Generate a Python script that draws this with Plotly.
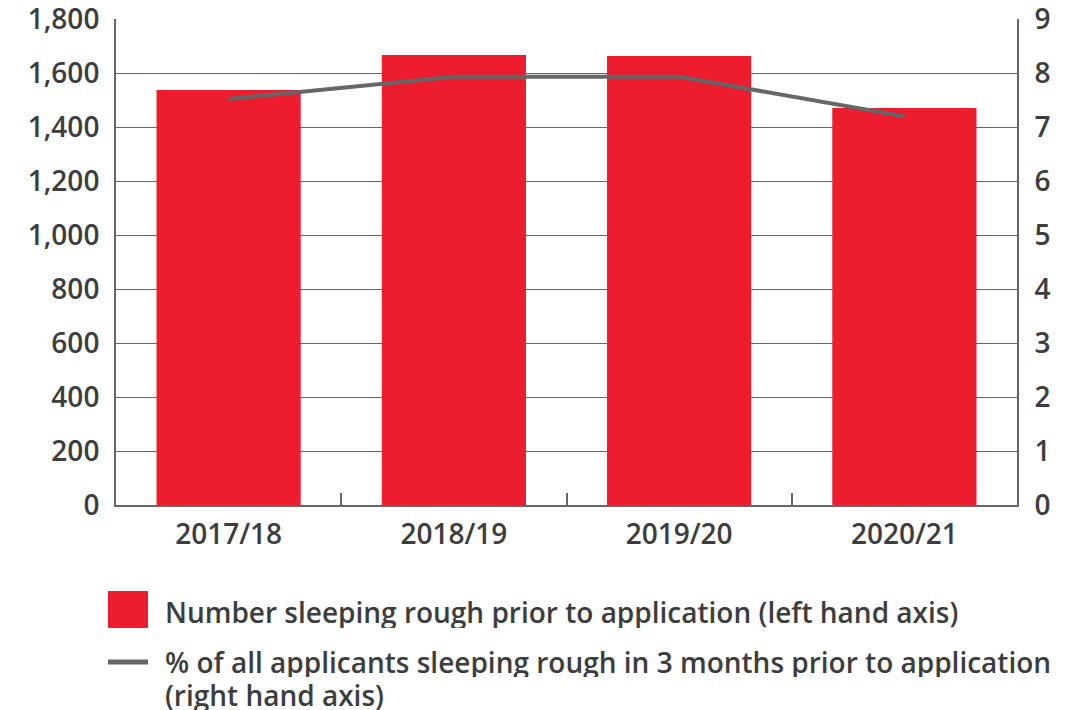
import plotly.graph_objects as go

categories = ["2017/18", "2018/19", "2019/20", "2020/21"]
rough_sleepers = [1537, 1667, 1663, 1470]
pct_applicants = [7.52, 7.93, 7.93, 7.2]
legend_labels = [
    "Number sleeping rough prior to application (left hand axis)",
    "% of all applicants sleeping rough in 3 months prior to application<br>(right hand axis)",
]

RED = "#ED1C2E"
GREY = "#666666"
TEXT = "#3d3d3d"
FONT = dict(family="Open Sans", size=28, color=TEXT, weight=600)

W, H = 1071, 710
# plot area in page pixels
L, R, T, B = 116, 1017, 19, 505

def px(x):
    return (x - L) / (R - L)

def py(y):
    return (B - y) / (B - T)

fig = go.Figure()
fig.add_trace(go.Bar(x=categories, y=rough_sleepers, marker=dict(color=RED, line=dict(width=0)),
                     name=legend_labels[0], showlegend=False))
fig.add_trace(go.Scatter(x=categories, y=pct_applicants, yaxis="y2", mode="lines",
                         line=dict(color=GREY, width=4), name=legend_labels[1], showlegend=False))

shapes = [
    dict(type="rect", xref="paper", yref="paper", x0=px(108), x1=px(148), y0=py(628), y1=py(591),
         fillcolor=RED, line=dict(width=0)),
    dict(type="line", xref="paper", yref="paper", x0=px(108), x1=px(148), y0=py(662), y1=py(662),
         line=dict(color=GREY, width=5)),
]
annotations = [
    dict(xref="paper", yref="paper", x=px(164), y=py(612), text=legend_labels[0], showarrow=False,
         xanchor="left", yanchor="middle", align="left", font=FONT, height=32, borderpad=0),
]
for i, line in enumerate(legend_labels[1].split("<br>")):
    annotations.append(dict(xref="paper", yref="paper", x=px(164), y=py(662 + 33 * i), text=line,
                            showarrow=False, xanchor="left", yanchor="middle", align="left",
                            font=FONT, height=30, borderpad=0))

fig.update_layout(
    width=W, height=H,
    margin=dict(l=L, r=W - R, t=T, b=H - B, pad=0),
    paper_bgcolor="white", plot_bgcolor="white",
    font=FONT,
    bargap=0.36,
    showlegend=False,
    shapes=shapes,
    annotations=annotations,
    xaxis=dict(showline=True, linecolor=GREY, linewidth=2, ticks="inside", tickson="boundaries",
               ticklen=12, tickwidth=2, tickcolor=GREY, showgrid=False, tickfont=FONT,
               ticklabelstandoff=3, automargin=False, ticklabeloverflow="allow"),
    yaxis=dict(range=[0, 1800], dtick=200, tickformat=",", showline=True, linecolor=GREY, linewidth=2,
               showgrid=True, gridcolor=GREY, gridwidth=1, zeroline=False, ticks="",
               tickfont=FONT, ticklabelstandoff=9, automargin=False, ticklabeloverflow="allow"),
    yaxis2=dict(range=[0, 9], dtick=1, overlaying="y", side="right", showline=True, linecolor=GREY,
                linewidth=2, showgrid=False, zeroline=False, ticks="", tickfont=FONT,
                ticklabelstandoff=10, automargin=False, ticklabeloverflow="allow"),
)

fig.write_html("out.html", config={"displayModeBar": False},
               post_script="document.body.style.margin='0';")
